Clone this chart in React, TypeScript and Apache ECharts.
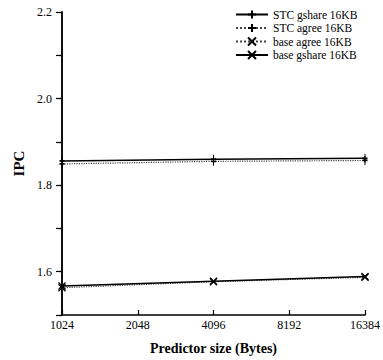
import React, { useEffect, useRef } from "react";
import * as echarts from "echarts";

const sizes = [1024, 4096, 16384];
const stcGshare = [1.856, 1.860, 1.862];
const stcAgree = [1.849, 1.855, 1.857];
const baseAgree = [1.563, 1.577, 1.587];
const baseGshare = [1.567, 1.578, 1.589];
const yMajorTicks = [1.6, 1.8, 2.0, 2.2];
const yMinorTicks = [1.7, 1.9, 2.1];

const PLUS = "path://M5,0L5,10M0,5L10,5";
const CROSS = "path://M0,0L10,10M0,10L10,0";
const FONT = "Liberation Serif";

export default function App() {
  const ref = useRef<HTMLDivElement>(null);
  useEffect(() => {
    const chart = echarts.init(ref.current!, null, { renderer: "svg" });
    const mk = (name: string, vals: number[], sym: string, dotted: boolean, color: string) => ({
      name,
      type: "line",
      data: sizes.map((s, i) => [s, vals[i]]),
      symbol: sym,
      symbolSize: sym === PLUS ? [5, 9] : 7,
      showSymbol: true,
      itemStyle: { color: "none", borderColor: "#000", borderWidth: 1.3 },
      lineStyle: { color, width: dotted ? 1.2 : 1.5, type: dotted ? "dotted" : "solid" },
    });
    chart.setOption({
      animation: false,
      backgroundColor: "#fff",
      textStyle: { fontFamily: FONT },
      grid: { left: 62, right: 15, top: 12, bottom: 44 },
      legend: {
        left: 230,
        top: 3,
        orient: "vertical",
        itemWidth: 32,
        itemHeight: 10,
        itemGap: 0.5,
        textStyle: { fontFamily: FONT, fontSize: 11.5, lineHeight: 12, color: "#000" },
        data: ["STC gshare 16KB", "STC agree 16KB", "base agree 16KB", "base gshare 16KB"],
      },
      xAxis: {
        type: "log",
        logBase: 2,
        min: 1024,
        max: 16384,
        name: "Predictor size (Bytes)",
        nameLocation: "middle",
        nameGap: 26,
        nameTextStyle: { fontFamily: FONT, fontSize: 14, fontWeight: "bold", color: "#000" },
        axisLine: { lineStyle: { color: "#000", width: 1.5 } },
        axisTick: { inside: true, length: 5, lineStyle: { color: "#000", width: 1.2 } },
        axisLabel: {
          color: "#000",
          fontSize: 12,
          fontFamily: FONT,
          margin: 4,
          formatter: (v: number) => String(Math.round(v)),
        },
        splitLine: { show: false },
        minorTick: { show: false },
      },
      yAxis: [
        {
          type: "value",
          min: 1.5,
          max: 2.2,
          name: "IPC",
          nameLocation: "middle",
          nameRotate: 90,
          nameGap: 35,
          nameTextStyle: { fontFamily: FONT, fontSize: 15, fontWeight: "bold", color: "#000" },
          axisLine: { show: true, lineStyle: { color: "#000", width: 1.5 } },
          axisTick: { show: true, length: 6, lineStyle: { color: "#000", width: 1.2 } },
          axisLabel: {
            customValues: yMajorTicks,
            color: "#000",
            fontSize: 12,
            fontFamily: FONT,
            margin: 10,
            formatter: (v: number) => v.toFixed(1),
          },
          splitLine: { show: false },
        },
        {
          type: "value",
          min: 1.5,
          max: 2.2,
          position: "left",
          offset: 0,
          axisLine: { show: true, lineStyle: { color: "#000", width: 1.5 } },
          axisTick: { show: true, length: 3, lineStyle: { color: "#000", width: 1.2 } },
          axisLabel: { show: true, customValues: yMinorTicks, formatter: () => "" },
          splitLine: { show: false },
        },
      ],
      series: [
        mk("STC gshare 16KB", stcGshare, PLUS, false, "#000"),
        mk("STC agree 16KB", stcAgree, PLUS, true, "#444"),
        mk("base agree 16KB", baseAgree, CROSS, true, "#444"),
        mk("base gshare 16KB", baseGshare, CROSS, false, "#000"),
      ],
    });
    return () => chart.dispose();
  }, []);
  return <div ref={ref} style={{ width: 383, height: 360, position: "absolute", left: 0, top: 0 }} />;
}
